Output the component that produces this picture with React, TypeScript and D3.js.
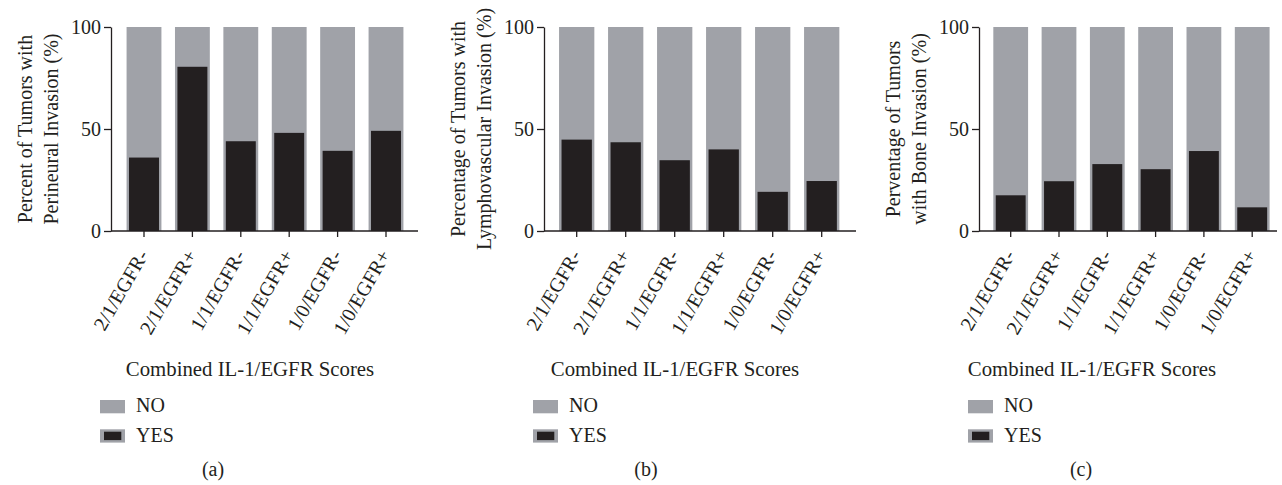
import React, { useRef, useEffect } from 'react'
import * as d3 from 'd3'

const categories = ['2/1/EGFR-', '2/1/EGFR+', '1/1/EGFR-', '1/1/EGFR+', '1/0/EGFR-', '1/0/EGFR+']
const perineuralYes = [36, 80.5, 44, 48.1, 39.3, 49.1]
const lymphovascularYes = [44.8, 43.5, 34.7, 40, 19.2, 24.5]
const boneYes = [17.5, 24.4, 32.8, 30.3, 39.2, 11.6]
const yTicks = [0, 50, 100]
const legendLabels = ['NO', 'YES']
const xTitle = 'Combined IL-1/EGFR Scores'

const panels = [
  { tag: '(a)', values: perineuralYes, yLabel: ['Percent of Tumors with', 'Perineural Invasion (%)'] },
  { tag: '(b)', values: lymphovascularYes, yLabel: ['Percentage of Tumors with', 'Lymphovascular Invasion (%)'] },
  { tag: '(c)', values: boneYes, yLabel: ['Perventage of Tumors', 'with Bone Invasion (%)'] },
]

// pixel layout per panel (axis x, first band centre, band step, axis end, title centre)
const layout = [
  { left: 111, first: 144, step: 48.4, right: 418, title: 250 },
  { left: 544, first: 576.7, step: 49, right: 856, title: 675 },
  { left: 979, first: 1010.7, step: 48.3, right: 1277, title: 1092 },
]

const W = 1282
const H = 485
const top = 27
const bottom = 231
const NO_COLOR = '#a0a2a8'
const YES_COLOR = '#231f20'
const FONT = '"Liberation Serif", "Times New Roman", serif'

export default function App() {
  const svgRef = useRef<SVGSVGElement>(null)

  useEffect(() => {
    document.body.style.margin = '0'
    const svg = d3.select(svgRef.current)
    svg.selectAll('*').remove()

    const y = d3.scaleLinear().domain([0, 100]).range([bottom, top])

    panels.forEach((p, pi) => {
      const L = layout[pi]
      const x0 = L.first - L.step / 2
      const x = d3.scaleBand<string>()
        .domain(categories)
        .range([x0, x0 + L.step * categories.length])
        .paddingInner(0.28)
        .paddingOuter(0.14)
      const bw = x.bandwidth()
      const inner = bw * 0.86

      const g = svg.append('g')

      // NO (full background) bars
      g.selectAll('.no')
        .data(categories)
        .join('rect')
        .attr('x', d => x(d)!)
        .attr('y', y(100))
        .attr('width', bw)
        .attr('height', y(0) - y(100))
        .attr('fill', NO_COLOR)

      // YES bars
      g.selectAll('.yes')
        .data(p.values)
        .join('rect')
        .attr('x', (d, i) => x(categories[i])! + (bw - inner) / 2)
        .attr('y', d => y(d))
        .attr('width', inner)
        .attr('height', d => y(0) - y(d))
        .attr('fill', YES_COLOR)

      // y axis
      const ya = g.append('g')
        .attr('transform', `translate(${L.left},0)`)
        .call(d3.axisLeft(y).tickValues(yTicks).tickSize(7).tickPadding(3).tickSizeOuter(0))
      ya.select('.domain').attr('stroke', YES_COLOR).attr('stroke-width', 1.3)
      ya.selectAll('line').attr('stroke', YES_COLOR).attr('stroke-width', 1.3)
      ya.selectAll('text').attr('font-family', FONT).attr('font-size', 20).attr('fill', YES_COLOR)

      // x axis
      const xa = g.append('g')
        .attr('transform', `translate(0,${y(0)})`)
        .call(d3.axisBottom(x).tickSize(6).tickSizeOuter(0))
      xa.select('.domain').remove()
      xa.append('line')
        .attr('x1', L.left).attr('x2', L.right)
        .attr('stroke', YES_COLOR).attr('stroke-width', 1.3)
      xa.selectAll('.tick line').attr('stroke', YES_COLOR).attr('stroke-width', 1.3)
      xa.selectAll('text')
        .attr('font-family', FONT).attr('font-size', 20).attr('fill', YES_COLOR)
        .attr('text-anchor', 'end')
        .attr('x', 0).attr('y', 0).attr('dy', null)
        .attr('transform', 'translate(5,24) rotate(-60)')

      // y label
      const cy = (top + bottom) / 2
      p.yLabel.forEach((line, li) => {
        g.append('text')
          .attr('transform', `translate(${L.left - 79 + li * 26},${cy}) rotate(-90)`)
          .attr('text-anchor', 'middle')
          .attr('font-family', FONT).attr('font-size', 20).attr('fill', YES_COLOR)
          .text(line)
      })

      // x title
      g.append('text')
        .attr('x', L.title).attr('y', 376)
        .attr('text-anchor', 'middle')
        .attr('font-family', FONT).attr('font-size', 20.8).attr('fill', YES_COLOR)
        .text(xTitle)

      // legend
      legendLabels.forEach((lab, li) => {
        const ly = 400 + li * 29.3
        g.append('rect')
          .attr('x', L.left - 11).attr('y', ly)
          .attr('width', 25).attr('height', 13.3)
          .attr('fill', NO_COLOR)
        if (lab === 'YES') {
          g.append('rect')
            .attr('x', L.left - 7).attr('y', ly + 2.4)
            .attr('width', 17.3).attr('height', 8.4)
            .attr('fill', YES_COLOR)
        }
        g.append('text')
          .attr('x', L.left + 25).attr('y', ly + 12.4)
          .attr('font-family', FONT).attr('font-size', 20).attr('fill', YES_COLOR)
          .text(lab)
      })

      // panel tag
      g.append('text')
        .attr('x', L.left + 102).attr('y', 476)
        .attr('text-anchor', 'middle')
        .attr('font-family', FONT).attr('font-size', 20).attr('fill', YES_COLOR)
        .text(p.tag)
    })
  }, [])

  return (
    <svg ref={svgRef} width={W} height={H} style={{ display: 'block', background: '#fff' }} />
  )
}
